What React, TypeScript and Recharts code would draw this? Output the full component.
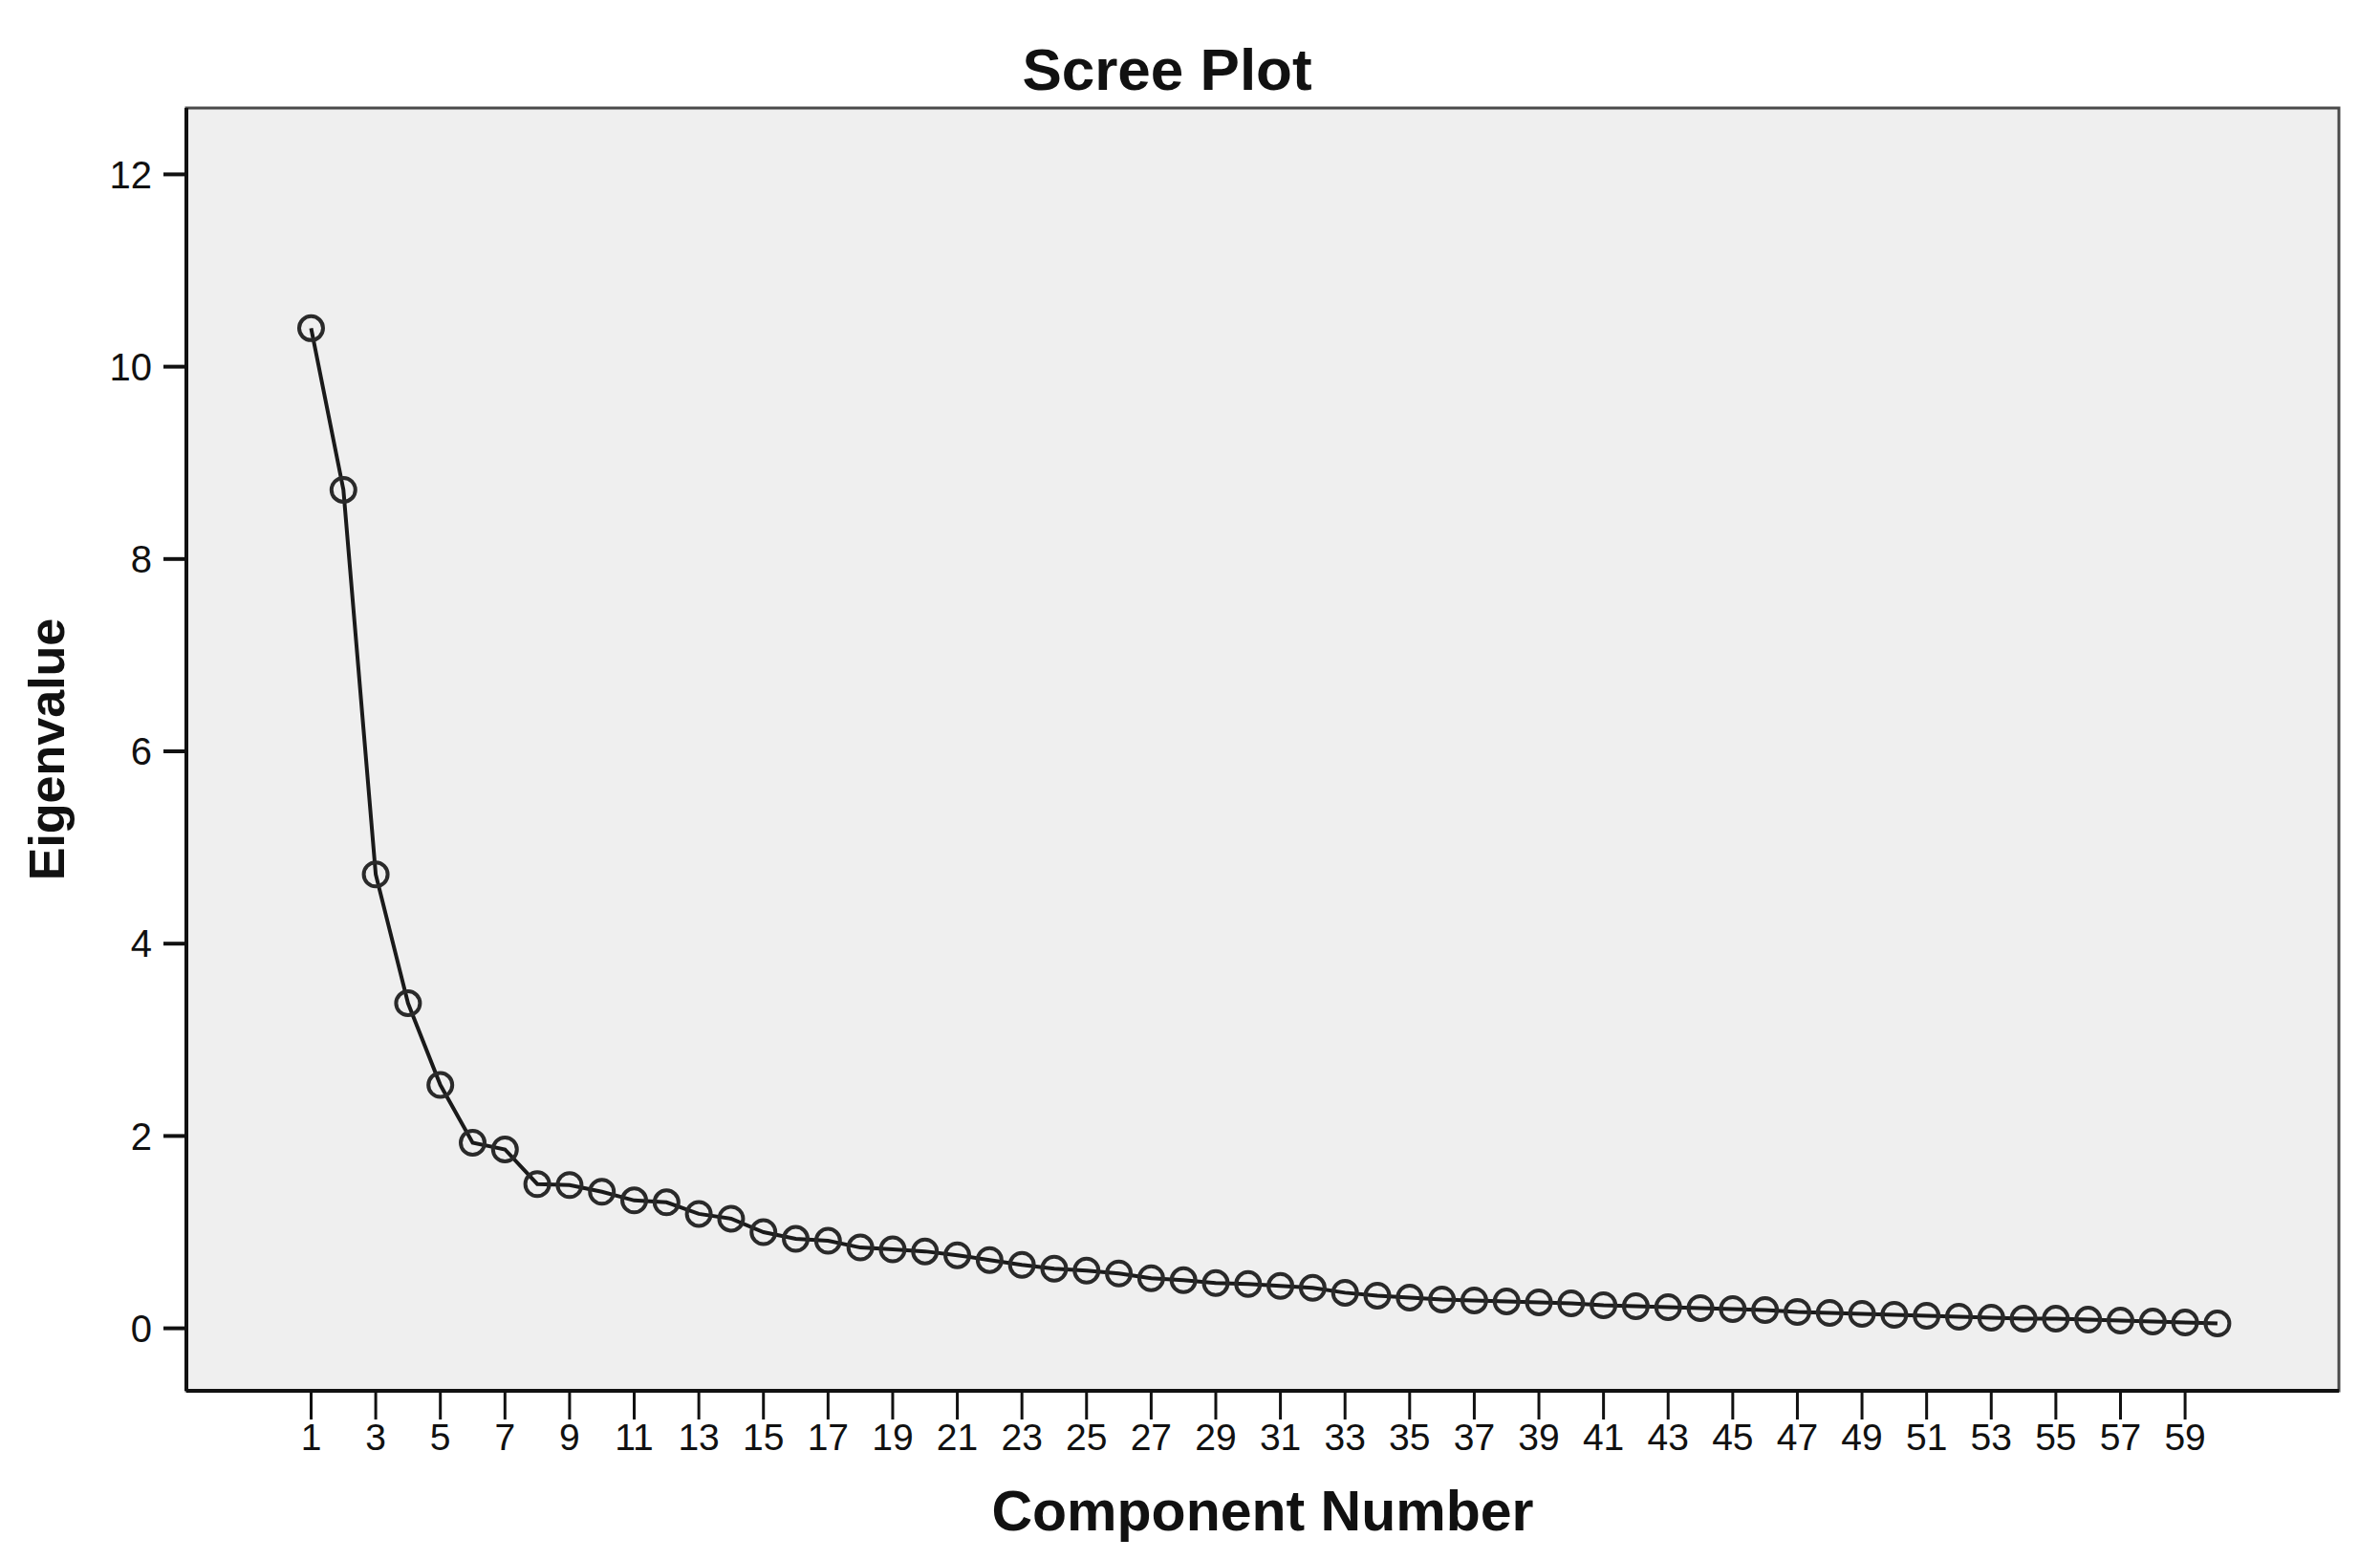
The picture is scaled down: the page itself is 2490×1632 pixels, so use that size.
import { Label, Line, LineChart, ReferenceArea, XAxis, YAxis } from "recharts";

const COMPONENTS = [
  1, 2, 3, 4, 5, 6, 7, 8, 9, 10, 11, 12, 13, 14, 15, 16, 17, 18, 19, 20,
  21, 22, 23, 24, 25, 26, 27, 28, 29, 30, 31, 32, 33, 34, 35, 36, 37, 38, 39, 40,
  41, 42, 43, 44, 45, 46, 47, 48, 49, 50, 51, 52, 53, 54, 55, 56, 57, 58, 59, 60,
];

const EIGENVALUES = [
  10.4, 8.72, 4.72, 3.38, 2.53, 1.93, 1.86, 1.5, 1.49, 1.42,
  1.33, 1.31, 1.19, 1.14, 1.0, 0.93, 0.91, 0.84, 0.82, 0.8,
  0.76, 0.71, 0.66, 0.62, 0.6, 0.57, 0.52, 0.5, 0.47, 0.46,
  0.44, 0.42, 0.37, 0.34, 0.32, 0.3, 0.29, 0.28, 0.27, 0.26,
  0.24, 0.23, 0.22, 0.21, 0.2, 0.19, 0.17, 0.16, 0.15, 0.14,
  0.13, 0.12, 0.11, 0.1, 0.1, 0.09, 0.08, 0.07, 0.06, 0.05,
];

const X_TICKS = [
  1, 3, 5, 7, 9, 11, 13, 15, 17, 19, 21, 23, 25, 27, 29,
  31, 33, 35, 37, 39, 41, 43, 45, 47, 49, 51, 53, 55, 57, 59,
];
const Y_TICKS = [0, 2, 4, 6, 8, 10, 12];

const X_DOMAIN: [number, number] = [-2.86, 63.76];
const Y_DOMAIN: [number, number] = [-0.65, 12.69];

const FONT = "'Liberation Sans', Arial, sans-serif";

export default function App() {
  const data = COMPONENTS.map((n, i) => ({ n, eig: EIGENVALUES[i] }));
  return (
    <div style={{ position: "absolute", left: 0, top: 0, width: 2490, height: 1632, background: "#fff" }}>
      <div
        style={{
          position: "absolute",
          left: 0,
          top: 42,
          width: 2442,
          textAlign: "center",
          fontFamily: FONT,
          fontWeight: "bold",
          fontSize: 62,
          lineHeight: 1,
          color: "#111",
        }}
      >
        Scree Plot
      </div>
      <LineChart
        width={2490}
        height={1632}
        data={data}
        margin={{ top: 113, right: 43, left: 35, bottom: 67 }}
      >
        <ReferenceArea
          x1={X_DOMAIN[0]}
          x2={X_DOMAIN[1]}
          y1={Y_DOMAIN[0]}
          y2={Y_DOMAIN[1]}
          fill="#efefef"
          fillOpacity={1}
          stroke="#4a4a4a"
          strokeWidth={3}
          ifOverflow="visible"
        />
        <XAxis
          type="number"
          dataKey="n"
          domain={X_DOMAIN}
          ticks={X_TICKS}
          allowDataOverflow
          height={110}
          tickSize={30}
          tickMargin={4}
          interval={0}
          axisLine={{ stroke: "#111", strokeWidth: 4 }}
          tickLine={{ stroke: "#111", strokeWidth: 3 }}
          tick={{ fill: "#111", fontSize: 39, fontFamily: FONT }}
        >
          <Label
            value="Component Number"
            position="bottom"
            offset={-6}
            style={{ fill: "#111", fontSize: 59, fontWeight: "bold", fontFamily: FONT }}
          />
        </XAxis>
        <YAxis
          type="number"
          domain={Y_DOMAIN}
          ticks={Y_TICKS}
          allowDataOverflow
          width={160}
          tickSize={24}
          tickMargin={12}
          axisLine={{ stroke: "#111", strokeWidth: 4 }}
          tickLine={{ stroke: "#111", strokeWidth: 4 }}
          tick={{ fill: "#111", fontSize: 40, fontFamily: FONT }}
        >
          <Label
            value="Eigenvalue"
            angle={-90}
            position="insideLeft"
            offset={14}
            style={{ fill: "#111", fontSize: 52, fontWeight: "bold", fontFamily: FONT, textAnchor: "middle" }}
          />
        </YAxis>
        <Line
          type="linear"
          dataKey="eig"
          stroke="#1a1a1a"
          strokeWidth={4}
          dot={{ r: 12.5, stroke: "#2a2a2a", strokeWidth: 4, fill: "none" }}
          isAnimationActive={false}
        />
      </LineChart>
    </div>
  );
}
